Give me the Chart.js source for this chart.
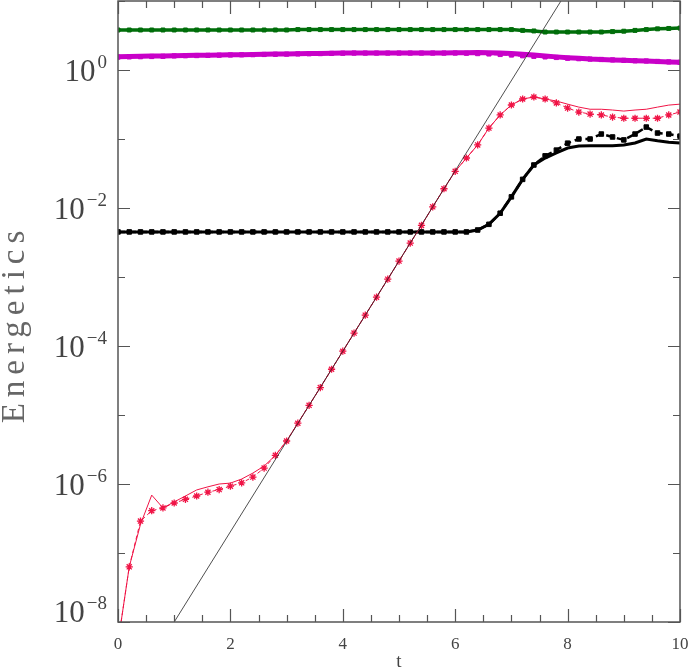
<!DOCTYPE html>
<html>
<head>
<meta charset="utf-8">
<script src="https://cdn.jsdelivr.net/npm/chart.js@4.4.0/dist/chart.umd.min.js"></script>
<style>
  html, body { margin: 0; padding: 0; background: #fff; }
  #wrap { width: 689px; height: 670px; }
</style>
</head>
<body>
<div id="wrap"><canvas id="energyChart"></canvas></div>
<script>
// sample times (every 0.2)
const times = [0, 0.2, 0.4, 0.6, 0.8, 1.0, 1.2, 1.4, 1.6, 1.8,
               2.0, 2.2, 2.4, 2.6, 2.8, 3.0, 3.2, 3.4, 3.6, 3.8,
               4.0, 4.2, 4.4, 4.6, 4.8, 5.0, 5.2, 5.4, 5.6, 5.8,
               6.0, 6.2, 6.4, 6.6, 6.8, 7.0, 7.2, 7.4, 7.6, 7.8,
               8.0, 8.2, 8.4, 8.6, 8.8, 9.0, 9.2, 9.4, 9.6, 9.8, 10.0];

const greenDashed = [3.8, 3.8, 3.8, 3.8, 3.8, 3.8, 3.8, 3.8, 3.8, 3.8,
                     3.8, 3.8, 3.8, 3.8, 3.8, 3.8, 3.85, 3.85, 3.85, 3.85,
                     3.85, 3.85, 3.85, 3.85, 3.85, 3.85, 3.85, 3.85, 3.85, 3.85,
                     3.85, 3.85, 3.85, 3.85, 3.85, 3.85, 3.75, 3.68, 3.55, 3.55,
                     3.55, 3.55, 3.55, 3.55, 3.6, 3.65, 3.75, 3.85, 3.95, 4.0, 4.05];
const greenSolid = greenDashed.slice();

const magentaDashed = [1.54, 1.55, 1.56, 1.57, 1.58, 1.6, 1.61, 1.62, 1.63, 1.64,
                       1.65, 1.66, 1.67, 1.68, 1.69, 1.70, 1.71, 1.72, 1.73, 1.74,
                       1.75, 1.76, 1.76, 1.76, 1.76, 1.76, 1.76, 1.76, 1.76, 1.76,
                       1.76, 1.75, 1.73, 1.71, 1.68, 1.65, 1.61, 1.58, 1.55, 1.52,
                       1.48, 1.46, 1.44, 1.42, 1.40, 1.38, 1.36, 1.35, 1.33, 1.31, 1.29];
const magentaSolid = [1.56, 1.57, 1.58, 1.59, 1.6, 1.61, 1.62, 1.63, 1.64, 1.65,
                      1.66, 1.67, 1.68, 1.69, 1.70, 1.71, 1.72, 1.73, 1.74, 1.75,
                      1.76, 1.77, 1.77, 1.77, 1.77, 1.77, 1.77, 1.77, 1.77, 1.77,
                      1.78, 1.78, 1.79, 1.78, 1.76, 1.73, 1.69, 1.65, 1.6, 1.55,
                      1.51, 1.48, 1.44, 1.42, 1.40, 1.38, 1.36, 1.35, 1.33, 1.31, 1.29];

const blackDashed = [0.0045, 0.0045, 0.0045, 0.0045, 0.0045, 0.0045, 0.0045, 0.0045, 0.0045, 0.0045,
                     0.0045, 0.0045, 0.0045, 0.0045, 0.0045, 0.0045, 0.0045, 0.0045, 0.0045, 0.0045,
                     0.0045, 0.0045, 0.0045, 0.0045, 0.0045, 0.0045, 0.0045, 0.0045, 0.0045, 0.0045,
                     0.0045, 0.0045, 0.0048, 0.0058, 0.0084, 0.0145, 0.026, 0.042, 0.057, 0.069,
                     0.087, 0.1, 0.1, 0.118, 0.107, 0.097, 0.118, 0.149, 0.122, 0.118, 0.11];
const blackSolid = [0.0045, 0.0045, 0.0045, 0.0045, 0.0045, 0.0045, 0.0045, 0.0045, 0.0045, 0.0045,
                    0.0045, 0.0045, 0.0045, 0.0045, 0.0045, 0.0045, 0.0045, 0.0045, 0.0045, 0.0045,
                    0.0045, 0.0045, 0.0045, 0.0045, 0.0045, 0.0045, 0.0045, 0.0045, 0.0045, 0.0045,
                    0.0045, 0.0045, 0.0048, 0.0058, 0.0084, 0.0145, 0.026, 0.042, 0.053, 0.063,
                    0.074, 0.079, 0.08, 0.08, 0.08, 0.082, 0.0875, 0.1, 0.094, 0.09, 0.0875];

const redDashed = [5e-9, 6.3e-8, 2.9e-7, 4.1e-7, 4.5e-7, 5.3e-7, 6.0e-7, 6.7e-7, 7.6e-7, 8.3e-7,
                   9.3e-7, 1.04e-6, 1.26e-6, 1.7e-6, 2.6e-6, 4.2e-6, 7.6e-6, 1.38e-5, 2.5e-5, 4.6e-5,
                   8.4e-5, 1.54e-4, 2.8e-4, 5.1e-4, 9.3e-4, 1.7e-3, 3.1e-3, 5.6e-3, 1.04e-2, 1.9e-2,
                   3.4e-2, 0.053, 0.082, 0.144, 0.223, 0.311, 0.38, 0.406, 0.38, 0.333,
                   0.281, 0.246, 0.23, 0.223, 0.208, 0.2, 0.2, 0.2, 0.2, 0.223, 0.246];
const redSolid = [5e-9, 6.3e-8, 2.6e-7, 6.9e-7, 4.5e-7, 5.5e-7, 6.7e-7, 8.2e-7, 9.1e-7, 1.0e-6,
                  1.03e-6, 1.18e-6, 1.44e-6, 1.82e-6, 2.6e-6, 4.2e-6, 7.6e-6, 1.38e-5, 2.5e-5, 4.6e-5,
                  8.4e-5, 1.54e-4, 2.8e-4, 5.1e-4, 9.3e-4, 1.7e-3, 3.1e-3, 5.6e-3, 1.04e-2, 1.9e-2,
                  3.4e-2, 0.053, 0.082, 0.144, 0.223, 0.311, 0.38, 0.406, 0.38, 0.355,
                  0.32, 0.29, 0.27, 0.27, 0.263, 0.254, 0.263, 0.27, 0.29, 0.31, 0.32];

// reference growth line (two end points)
const fitT = [1, 8];
const fitE = [1e-8, 14.3];

const yLabelExps = [0, -2, -4, -6, -8];
const yMinorExps = [1, 0, -1, -2, -3, -4, -5, -6, -7, -8];
const xTickLabels = [0, 2, 4, 6, 8, 10];

const pts = (ys) => times.map((t, i) => ({ x: t, y: ys[i] }));

const GREEN = 'rgb(0,110,10)';
const MAGENTA = 'rgb(200,0,200)';
const BLACK = '#000';
const RED = 'rgb(240,20,70)';

// frame, inward ticks and text labels
const framePlugin = {
    id: 'frame',
    afterDraw(chart) {
        const ctx = chart.ctx;
        const a = chart.chartArea;
        const xs = chart.scales.x, ys = chart.scales.y;
        ctx.save();
        ctx.strokeStyle = '#555';
        ctx.lineWidth = 1.5;
        ctx.strokeRect(a.left, a.top, a.right - a.left, a.bottom - a.top);

        ctx.lineWidth = 1.2;
        ctx.beginPath();
        for (let v = 0; v <= 10.001; v += 0.5) {
            const px = Math.round(xs.getPixelForValue(v)) + 0.5;
            const len = (Math.abs(v % 2) < 0.01) ? 13 : 7;
            ctx.moveTo(px, a.bottom); ctx.lineTo(px, a.bottom - len);
            ctx.moveTo(px, a.top); ctx.lineTo(px, a.top + len);
        }
        yMinorExps.forEach(e => {
            const py = Math.round(ys.getPixelForValue(Math.pow(10, e))) + 0.5;
            const len = (e % 2 === 0) ? 12 : 7;
            ctx.moveTo(a.left, py); ctx.lineTo(a.left + len, py);
            ctx.moveTo(a.right, py); ctx.lineTo(a.right - len, py);
        });
        ctx.stroke();

        // y tick labels 10^n
        ctx.fillStyle = '#444';
        ctx.textBaseline = 'alphabetic';
        yLabelExps.forEach(e => {
            const py = ys.getPixelForValue(Math.pow(10, e));
            const base = Math.min(py + 11, a.bottom);
            const expText = e === 0 ? '0' : '\u2212' + Math.abs(e);
            ctx.font = '19px "Liberation Serif"';
            const ew = ctx.measureText(expText).width;
            ctx.textAlign = 'left';
            ctx.fillText(expText, 107 - ew, base - 13);
            ctx.font = '31px "Liberation Serif"';
            ctx.textAlign = 'right';
            ctx.fillText('10', 107 - ew - 2, base);
        });

        // x tick labels
        ctx.font = '17px "Liberation Serif"';
        ctx.textAlign = 'center';
        xTickLabels.forEach(v => {
            ctx.fillText(String(v), xs.getPixelForValue(v), 649);
        });
        ctx.font = '19px "Liberation Serif"';
        ctx.fillText('t', xs.getPixelForValue(5), 667);

        // y axis title
        ctx.fillStyle = '#666';
        ctx.font = '33px "Liberation Serif"';
        ctx.letterSpacing = '6px';
        ctx.translate(24, 327);
        ctx.rotate(-Math.PI / 2);
        ctx.textAlign = 'center';
        ctx.fillText('Energetics', 3, 0);
        ctx.restore();
    }
};

const ctx = document.getElementById('energyChart').getContext('2d');
const chart = new Chart(ctx, {
    type: 'line',
    data: {
        datasets: [
            { data: fitT.map((t, i) => ({ x: t, y: fitE[i] })), borderColor: '#222', borderWidth: 0.8, pointRadius: 0 },
            { data: pts(greenSolid), borderColor: GREEN, borderWidth: 3.5, pointRadius: 0 },
            { data: pts(greenDashed), borderColor: GREEN, borderWidth: 2, borderDash: [5, 3],
              pointStyle: 'rect', pointRadius: 2.8, pointBackgroundColor: GREEN, pointBorderColor: GREEN, pointBorderWidth: 1 },
            { data: pts(magentaSolid), borderColor: MAGENTA, borderWidth: 5, pointRadius: 0 },
            { data: pts(magentaDashed), borderColor: MAGENTA, borderWidth: 2, borderDash: [5, 3],
              pointStyle: 'rect', pointRadius: 3, pointBackgroundColor: MAGENTA, pointBorderColor: MAGENTA, pointBorderWidth: 1 },
            { data: pts(redSolid), borderColor: RED, borderWidth: 1, pointRadius: 0 },
            { data: pts(redDashed), borderColor: RED, borderWidth: 1, borderDash: [4, 3],
              pointStyle: 'star', pointRadius: 3.6, pointBorderColor: RED, pointBackgroundColor: RED, pointBorderWidth: 1.3 },
            { data: pts(blackSolid), borderColor: BLACK, borderWidth: 3, pointRadius: 0 },
            { data: pts(blackDashed), borderColor: BLACK, borderWidth: 2.5, borderDash: [7, 4],
              pointStyle: 'rect', pointRadius: 3.2, pointBackgroundColor: BLACK, pointBorderColor: BLACK, pointBorderWidth: 1 }
        ]
    },
    options: {
        responsive: true,
        maintainAspectRatio: false,
        animation: false,
        layout: { autoPadding: false, padding: { left: 118, right: 9, top: 1, bottom: 48 } },
        elements: { line: { tension: 0 } },
        plugins: {
            legend: { display: false },
            tooltip: { enabled: false }
        },
        scales: {
            x: { type: 'linear', min: 0, max: 10, display: false },
            y: { type: 'logarithmic', min: 1e-8, max: 10, display: false }
        }
    },
    plugins: [framePlugin]
});
</script>
</body>
</html>
